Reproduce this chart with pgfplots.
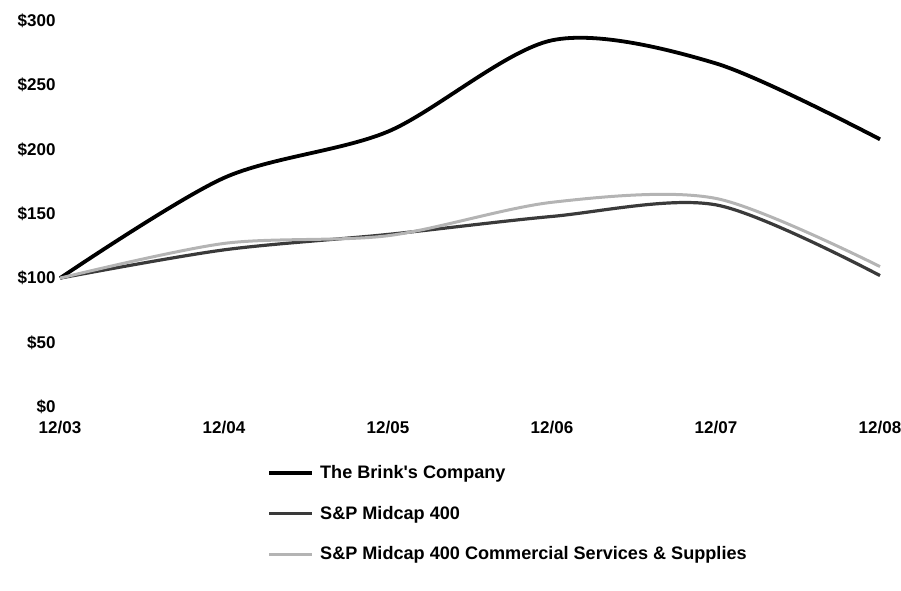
\documentclass[border=0pt]{standalone}
\usepackage{pgfplots}
\pgfplotsset{compat=1.18}
\usepackage{fontspec}
\setmainfont{Liberation Sans}[Ligatures=TeXOff]
\definecolor{midc}{HTML}{3A3A3A}
\definecolor{comc}{HTML}{B4B4B4}
\begin{document}
\begin{tikzpicture}[x=1pt,y=1pt]
\useasboundingbox (0,0) rectangle (901,-590);
\begin{axis}[
  at={(60pt,-406.7pt)}, anchor=south west,
  scale only axis, width=820pt, height=385.7pt,
  xmin=0, xmax=5, ymin=0, ymax=300,
  axis line style={draw=none}, major tick length=0pt,
  xtick={0,1,2,3,4,5},
  xticklabels={12/03,12/04,12/05,12/06,12/07,12/08},
  ytick={0,50,100,150,200,250,300},
  yticklabels={\$0,\$50,\$100,\$150,\$200,\$250,\$300},
  tick label style={font=\fontsize{17}{17}\selectfont\bfseries},
  yticklabel style={xshift=-1pt},
  xticklabel style={yshift=-11pt},
  clip=false,
  legend style={at={(rel axis cs:0.249,-0.147)}, anchor=north west, draw=none, fill=none,
    font=\fontsize{18.1}{19}\selectfont\bfseries, row sep=26pt,
    nodes={inner sep=0pt, anchor=west}, cells={anchor=west}},
  legend cell align=left,
  legend image code/.code={\draw[#1] (0pt,0pt) -- (43pt,0pt);},
]
\addplot[black, line width=3.8pt, smooth] coordinates {(0,100) (1,178) (2,214) (3,285) (4,267) (5,208)};
\addlegendentry{\hspace{6pt}The Brink's Company}
\addplot[midc, line width=3.2pt, smooth] coordinates {(0,100) (1,122) (2,134) (3,148) (4,157) (5,102)};
\addlegendentry{\hspace{6pt}S\&P Midcap 400}
\addplot[comc, line width=3pt, smooth] coordinates {(0,100) (1,127) (2,133) (3,159) (4,162) (5,109)};
\addlegendentry{\hspace{6pt}S\&P Midcap 400 Commercial Services \& Supplies}
\end{axis}
\end{tikzpicture}
\end{document}
